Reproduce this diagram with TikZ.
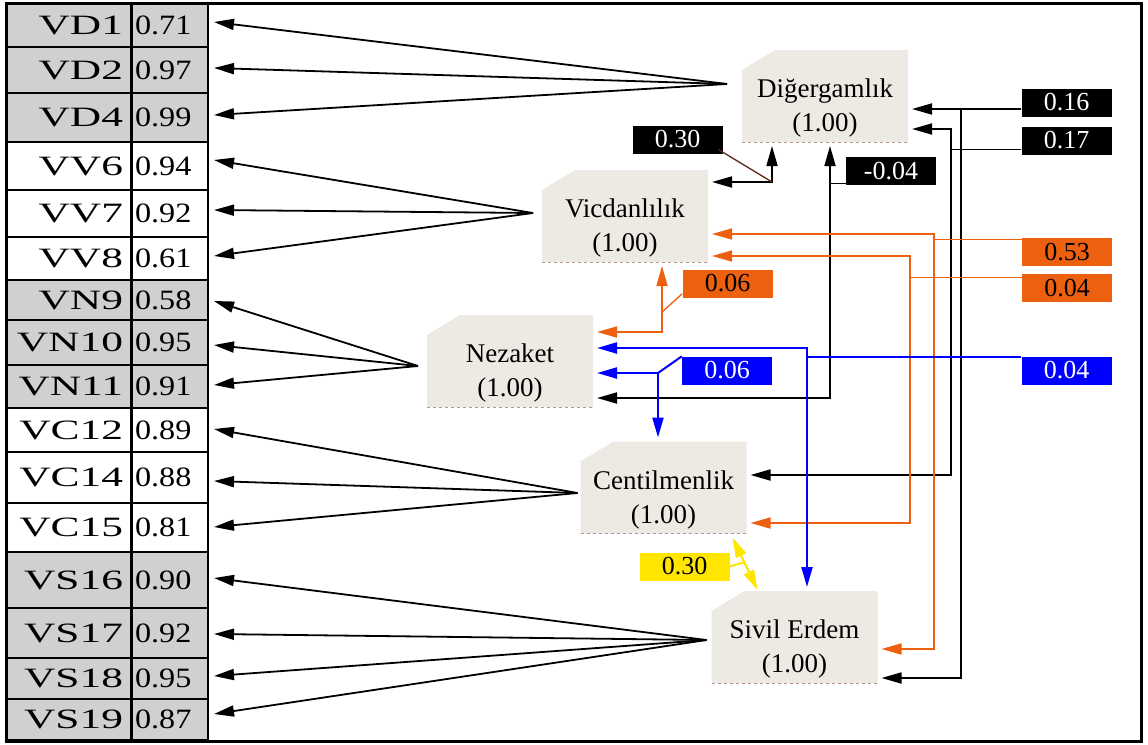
\documentclass[tikz,border=0pt]{standalone}
\usepackage{fontspec}
\usepackage{graphicx}
\setmainfont{Liberation Serif}
\usetikzlibrary{arrows.meta,calc,backgrounds}
\definecolor{cellgray}{RGB}{208,208,208}
\definecolor{boxfill}{RGB}{236,234,226}
\definecolor{orng}{RGB}{236,96,16}
\definecolor{blu}{RGB}{0,0,255}
\definecolor{yel}{RGB}{255,230,0}
\definecolor{dashc}{RGB}{185,150,150}
\definecolor{brn}{RGB}{90,40,20}
\newcommand{\latxt}[2]{\raisebox{-12pt}[\height][\depth]{\begin{tabular}{@{}c@{}}#1\\#2\end{tabular}}}
\begin{document}
\begin{tikzpicture}[x=1pt,y=-1pt,
  >={Triangle[length=20pt,width=11pt]},
  labcell/.style={draw=black,line width=2.5pt,outer sep=0pt,anchor=north west,minimum width=124pt,text width=108pt,align=right,inner xsep=8pt,inner ysep=0pt,font=\fontsize{28}{30}\selectfont},
  valcell/.style={draw=black,line width=2.5pt,outer sep=0pt,anchor=north west,minimum width=76pt,text width=70pt,align=left,inner xsep=3pt,inner ysep=0pt,font=\fontsize{28}{30}\selectfont},
  latent/.style={minimum width=166pt,minimum height=92pt,inner sep=0pt,outer sep=0pt,font=\fontsize{27}{34}\selectfont},
  lab/.style={minimum width=90pt,minimum height=28pt,inner sep=0pt,font=\fontsize{26}{28}\selectfont},
  labk/.style={lab,fill=black,text=white},
  labo/.style={lab,fill=orng,text=black},
  labb/.style={lab,fill=blu,text=white},
  laby/.style={lab,fill=yel,text=black},
  load/.style={draw=black,line width=1.8pt,->},
  covk/.style={draw=black,line width=1.8pt,<->,shorten <=4pt,shorten >=4pt},
  covo/.style={draw=orng,line width=1.6pt,<->,shorten <=4pt,shorten >=4pt},
  covb/.style={draw=blu,line width=2.2pt,<->,shorten <=4pt,shorten >=4pt},
  covy/.style={draw=yel,line width=2.2pt,<->},
  tie/.style={line width=1.3pt}
]
\useasboundingbox (0,0) rectangle (1148,744);

% latent boxes
\node[latent] (dg) at (825,96) {\latxt{Diğergamlık}{(1.00)}};
\node[latent] (vi) at (625,216) {\latxt{Vicdanlılık}{(1.00)}};
\node[latent] (nz) at (510,361) {\latxt{Nezaket}{(1.00)}};
\node[latent] (ce) at (663.5,487.5) {\latxt{Centilmenlik}{(1.00)}};
\node[latent] (se) at (794.5,637) {\latxt{Sivil Erdem}{(1.00)}};
\begin{scope}[on background layer]
\fill[white] (0,0) rectangle (1148,744);
\foreach \b in {dg,vi,nz,ce,se}{
  \fill[boxfill] (\b.south west) -- ($(\b.north west)+(0,20)$) -- ($(\b.north west)+(33,0)$) -- (\b.north east) -- (\b.south east) -- cycle;
  \draw[dashc,dashed,line width=1pt] (\b.south west) -- (\b.south east);
}
\end{scope}
\draw[line width=3pt] (6,3) rectangle (1141,741);

\coordinate (cdg) at ($(dg.west)+(-15,-12)$);
\coordinate (cvi) at ($(vi.west)+(-9,-3)$);
\coordinate (cnz) at ($(nz.west)+(-9,5)$);
\coordinate (cce) at ($(ce.west)+(-3,5.5)$);
\coordinate (cse) at ($(se.west)+(-5,3)$);

% table and loadings
\foreach \n/\l/\v/\t/\b/\f/\o/\s in {
 1/VD1/0.71/4/47/cellgray/-3.5/cdg, 2/VD2/0.97/47/93/cellgray/-2/cdg, 3/VD4/0.99/93/142/cellgray/-2.5/cdg,
 4/VV6/0.94/142/190/white/-6/cvi, 5/VV7/0.92/190/237/white/-3.5/cvi, 6/VV8/0.61/237/280/white/-2.5/cvi,
 7/VN9/0.58/280/320/cellgray/1/cnz, 8/VN10/0.95/320/365/cellgray/2.5/cnz, 9/VN11/0.91/365/408/cellgray/-1.5/cnz,
 10/VC12/0.89/408/452/white/-1/cce, 11/VC14/0.88/452/503/white/3.5/cce, 12/VC15/0.81/503/552/white/-0.5/cce,
 13/VS16/0.90/552/608/cellgray/-2/cse, 14/VS17/0.92/608/658/cellgray/1/cse, 15/VS18/0.95/658/699/cellgray/-2.5/cse,
 16/VS19/0.87/699/740/cellgray/-5.5/cse}{
  \pgfmathsetmacro\h{\b-\t}
  \node[labcell,fill=\f,minimum height=\h pt] (l\n) at (7,\t) {\scalebox{1.55}[1]{\l}};
  \node[valcell,fill=\f,minimum height=\h pt] (v\n) at (132,\t) {\scalebox{1.15}[1]{\v}};
  \draw[load] (\s) -- ($(v\n.east)+(6,\o)$);
}

% labels
\node[labk] (lk030) at (677.5,139.5) {0.30};
\node[labk] (lkm004) at (891,171) {-0.04};
\node[labk] (lk016) at (1066.5,102.5) {0.16};
\node[labk] (lk017) at (1066.5,140.5) {0.17};
\node[labo] (lo053) at (1067,252) {0.53};
\node[labo] (lo004) at (1067,288) {0.04};
\node[labo] (lo006) at (727.5,283.5) {0.06};
\node[labb] (lb006) at (727,370.5) {0.06};
\node[labb] (lb004) at (1066.5,370.5) {0.04};
\node[laby] (ly030) at (684.5,566.5) {0.30};

% black covariances
\coordinate (c30) at (772,182);
\draw[covk] (vi.east |- c30) -- (c30) -- (c30 |- dg.south);
\draw[brn,tie] ($(lk030.south east)+(-4,-4)$) -- (c30);

\coordinate (c04) at (830,398);
\draw[covk] (nz.east |- c04) -- (c04) -- (c04 |- dg.south);
\coordinate (p04) at ($(lkm004.south west)+(0,-1.5)$);
\draw[tie] (p04) -- (p04 -| c04);

\coordinate (c16) at (961,109);
\coordinate (d16) at (961,678);
\draw[covk] (dg.east |- c16) -- (c16) -- (d16) -- (se.east |- d16);
\draw[tie] (c16) -- (c16 -| lk016.west);

\coordinate (c17) at (951,129);
\coordinate (d17) at (951,475);
\draw[covk] (dg.east |- c17) -- (c17) -- (d17) -- (ce.east |- d17);
\coordinate (p17) at ($(lk017.south west)+(0,-5)$);
\draw[tie] (p17) -- (p17 -| c17);

% orange covariances
\coordinate (c06o) at (662,332);
\draw[covo] (nz.east |- c06o) -- (c06o) -- (c06o |- vi.south);
\draw[orng,tie] ($(c06o)+(0,-20)$) -- ($(lo006.south west)+(0,-4)$);

\coordinate (c53) at (934,234);
\coordinate (d53) at (934,649);
\draw[covo] (vi.east |- c53) -- (c53) -- (d53) -- (se.east |- d53);
\coordinate (p53) at ($(lo053.north west)+(0,2)$);
\draw[orng,tie] (p53) -- (p53 -| c53);

\coordinate (c04o) at (910,256);
\coordinate (d04o) at (910,523);
\draw[covo] (vi.east |- c04o) -- (c04o) -- (d04o) -- (ce.east |- d04o);
\coordinate (p04o) at ($(lo004.north west)+(0,4)$);
\draw[orng,tie] (p04o) -- (p04o -| c04o);

% blue covariances
\coordinate (c06b) at (658,373);
\draw[covb] (nz.east |- c06b) -- (c06b) -- (c06b |- ce.north);
\draw[blu,line width=2pt] (c06b) -- (lb006.north west);

\coordinate (c04b) at (807,348);
\draw[covb] (nz.east |- c04b) -- (c04b) -- (c04b |- se.north);
\coordinate (p04b) at ($(lb004.north west)+(0,1)$);
\draw[blu,line width=2pt] (p04b) -- (p04b -| c04b);

% yellow covariance
\coordinate (ya) at ($(ce.south east)+(-14,4)$);
\coordinate (yb) at ($(se.north west)+(46,-1)$);
\draw[covy] (ya) -- (yb);
\draw[yel,line width=2pt] (ly030.east) -- ($(ya)!0.47!(yb)$);
\end{tikzpicture}
\end{document}
